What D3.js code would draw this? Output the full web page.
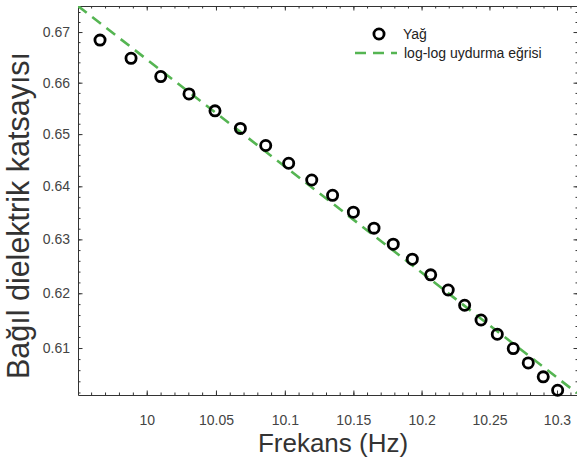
<!DOCTYPE html>
<html>
<head>
<meta charset="utf-8">
<title>Bağıl dielektrik katsayısı</title>
<script src="https://d3js.org/d3.v7.min.js"></script>
<style>
  body { margin: 0; background: #fff; }
  svg { display: block; font-family: "Liberation Sans", Arial, sans-serif; }
  .axis path, .axis line { stroke: #333; }
  .axis text { fill: #444; font-size: 14px; }
</style>
</head>
<body>
<svg width="577" height="461"></svg>
<script>
// frequency (Hz) and relative permittivity of the oil sample
var freq = [9.9664, 9.9887, 10.0101, 10.0305, 10.0493, 10.0677, 10.0861, 10.1028,
            10.1196, 10.1348, 10.1500, 10.1651, 10.1792, 10.1932, 10.2067, 10.2196,
            10.2317, 10.2438, 10.2558, 10.2676, 10.2787, 10.2898, 10.3005]
var eps = [0.6684, 0.6648, 0.6612, 0.6578, 0.6545, 0.6511, 0.6478, 0.6444,
           0.6412, 0.6383, 0.6351, 0.6321, 0.6291, 0.6263, 0.6234, 0.6206,
           0.6178, 0.6151, 0.6125, 0.6099, 0.6073, 0.6048, 0.6024]

// log-log fit line end points
var fitX = [9.9506, 10.3148]
var fitY = [0.6752, 0.6019]

var xTicks = [10, 10.05, 10.1, 10.15, 10.2, 10.25, 10.3]
var xTickLabels = ["10", "10.05", "10.1", "10.15", "10.2", "10.25", "10.3"]
var yTicks = [0.61, 0.62, 0.63, 0.64, 0.65, 0.66, 0.67]
var yTickLabels = ["0.61", "0.62", "0.63", "0.64", "0.65", "0.66", "0.67"]

var seriesNames = ["Yağ", "log-log uydurma eğrisi"]

var svg = d3.select("svg")
var pLeft = 78, pRight = 579, pTop = 6, pBottom = 395

var x = d3.scaleLog().domain([9.9506, 10.31635]).range([pLeft, pRight])
var y = d3.scaleLog().domain([0.60155, 0.6752]).range([pBottom, pTop])

var xMinor = d3.range(996, 1032).map(function(d) { return d / 100 })
var yMinor = d3.range(301, 338).map(function(d) { return d / 500 })

function noDomain(g) { g.select(".domain").remove() }

// minor ticks
svg.append("g").attr("class", "axis")
  .attr("transform", "translate(0," + pBottom + ")")
  .call(d3.axisBottom(x).tickValues(xMinor).tickSize(-2.5).tickSizeOuter(0).tickFormat(""))
  .call(noDomain)
svg.append("g").attr("class", "axis")
  .attr("transform", "translate(0," + pTop + ")")
  .call(d3.axisTop(x).tickValues(xMinor).tickSize(-2.5).tickSizeOuter(0).tickFormat(""))
  .call(noDomain)
svg.append("g").attr("class", "axis")
  .attr("transform", "translate(" + pLeft + ",0)")
  .call(d3.axisLeft(y).tickValues(yMinor).tickSize(-2.5).tickSizeOuter(0).tickFormat(""))
  .call(noDomain)
svg.append("g").attr("class", "axis")
  .attr("transform", "translate(" + (pRight - 1) + ",0)")
  .call(d3.axisRight(y).tickValues(yMinor).tickSize(-2.5).tickSizeOuter(0).tickFormat(""))
  .call(noDomain)

// major ticks
svg.append("g").attr("class", "axis")
  .attr("transform", "translate(0," + pBottom + ")")
  .call(d3.axisBottom(x).tickValues(xTicks).tickSize(-4.5).tickSizeOuter(0).tickPadding(20)
    .tickFormat(function(d, i) { return xTickLabels[i] }))
svg.append("g").attr("class", "axis")
  .attr("transform", "translate(0," + pTop + ")")
  .call(d3.axisTop(x).tickValues(xTicks).tickSize(-4.5).tickSizeOuter(0).tickFormat(""))
svg.append("g").attr("class", "axis")
  .attr("transform", "translate(" + pLeft + ",0)")
  .call(d3.axisLeft(y).tickValues(yTicks).tickSize(-4.5).tickSizeOuter(0).tickPadding(8)
    .tickFormat(function(d, i) { return yTickLabels[i] }))
svg.append("g").attr("class", "axis")
  .attr("transform", "translate(" + (pRight - 1) + ",0)")
  .call(d3.axisRight(y).tickValues(yTicks).tickSize(-4.5).tickSizeOuter(0).tickFormat(""))

// fit line
svg.append("clipPath").attr("id", "plot")
  .append("rect").attr("x", pLeft).attr("y", pTop).attr("width", pRight - pLeft).attr("height", pBottom - pTop)

svg.append("path")
  .datum(d3.zip(fitX, fitY))
  .attr("clip-path", "url(#plot)")
  .attr("fill", "none")
  .attr("stroke", "#55b552")
  .attr("stroke-width", 2.6)
  .attr("stroke-dasharray", "11,7")
  .attr("d", d3.line().x(function(d) { return x(d[0]) }).y(function(d) { return y(d[1]) }))

// data points
svg.selectAll(".pt")
  .data(d3.zip(freq, eps))
  .enter().append("circle")
  .attr("class", "pt")
  .attr("cx", function(d) { return x(d[0]) })
  .attr("cy", function(d) { return y(d[1]) })
  .attr("r", 5.1)
  .attr("fill", "none")
  .attr("stroke", "#000")
  .attr("stroke-width", 2.8)

// legend
var legend = svg.append("g").attr("font-size", "14px").attr("fill", "#222")
legend.append("circle").attr("cx", 379).attr("cy", 34).attr("r", 5.1)
  .attr("fill", "none").attr("stroke", "#000").attr("stroke-width", 2.8)
legend.append("text").attr("x", 403).attr("y", 39).text(seriesNames[0])
legend.append("line").attr("x1", 355).attr("x2", 397).attr("y1", 53).attr("y2", 53)
  .attr("stroke", "#55b552").attr("stroke-width", 2.6).attr("stroke-dasharray", "11,7")
legend.append("text").attr("x", 404).attr("y", 58).text(seriesNames[1])

// axis titles
svg.append("text")
  .attr("x", 333).attr("y", 452)
  .attr("text-anchor", "middle")
  .attr("font-size", "26px")
  .attr("fill", "#333")
  .text("Frekans (Hz)")

svg.append("text")
  .attr("transform", "translate(29,215.5) rotate(-90)")
  .attr("text-anchor", "middle")
  .attr("font-size", "30.5px")
  .attr("fill", "#333")
  .text("Bağıl dielektrik katsayısı")
</script>
</body>
</html>
